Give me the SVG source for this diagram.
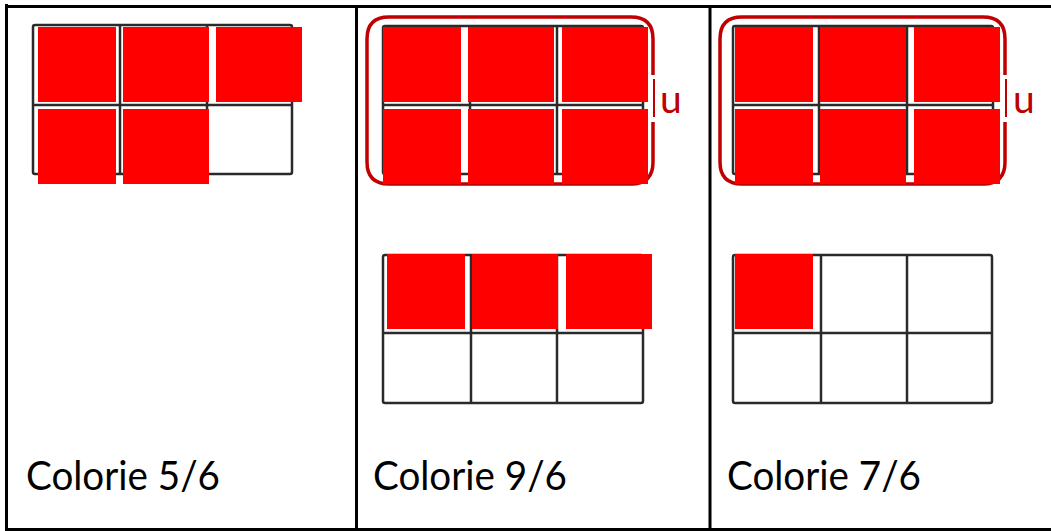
<svg xmlns="http://www.w3.org/2000/svg" width="1051" height="531" viewBox="0 0 1051 531">
<style>
.border{stroke:#000;stroke-width:3;fill:none}
.grid{stroke:#2a2a2a;stroke-width:2.5;fill:#fff;stroke-linejoin:round}
.gl{stroke:#2a2a2a;stroke-width:2.5}
.red{fill:#ff0000}
.ring{fill:none;stroke:#c00000;stroke-width:3.5}
.tick{stroke:#c00000;stroke-width:2}
.lbl{font-family:"Lato","Liberation Sans",sans-serif;font-size:40px;fill:#000}
.u{font-family:"Lato","Liberation Sans",sans-serif;font-size:39px;fill:#c00000}
</style>
<rect width="1051" height="531" fill="#fff"/>
<g id="frame">
<line class="border" x1="6.5" y1="4" x2="6.5" y2="531"/>
<line class="border" x1="5" y1="6.5" x2="1051" y2="6.5"/>
<line class="border" x1="5" y1="529.5" x2="1051" y2="529.5"/>
<line class="border" x1="356.5" y1="5" x2="356.5" y2="531"/>
<line class="border" x1="710" y1="5" x2="710" y2="531"/>
</g>
<g id="panel1">
<rect class="grid" x="33" y="25" width="259" height="149" rx="2"/>
<line class="gl" x1="33" y1="105" x2="292" y2="105"/>
<line class="gl" x1="120" y1="25" x2="120" y2="174"/>
<line class="gl" x1="207" y1="25" x2="207" y2="174"/>
<rect class="red" x="38" y="27" width="78" height="75"/>
<rect class="red" x="123" y="27" width="86" height="75"/>
<rect class="red" x="216" y="27" width="86" height="75"/>
<rect class="red" x="38" y="109" width="78" height="75"/>
<rect class="red" x="123" y="109" width="86" height="75"/>
<text class="lbl" x="26" y="490" textLength="194" lengthAdjust="spacingAndGlyphs">Colorie 5/6</text>
</g>
<g id="panel2">
<rect class="grid" x="383" y="26" width="260" height="148" rx="2"/>
<line class="gl" x1="383" y1="105" x2="643" y2="105"/>
<line class="gl" x1="470" y1="26" x2="470" y2="174"/>
<line class="gl" x1="557" y1="26" x2="557" y2="174"/>
<path class="ring" d="M653 75 V39 Q653 17 631 17 H389 Q367 17 367 39 V162 Q367 184 389 184 H631 Q653 184 653 162 V122"/>
<line class="tick" x1="654" y1="79" x2="654" y2="117"/>
<text class="u" x="660" y="113">u</text>
<rect class="red" x="383" y="27" width="78" height="75"/>
<rect class="red" x="468" y="27" width="86" height="75"/>
<rect class="red" x="562" y="27" width="86" height="75"/>
<rect class="red" x="383" y="109" width="78" height="75"/>
<rect class="red" x="468" y="109" width="86" height="75"/>
<rect class="red" x="562" y="109" width="86" height="75"/>
<rect class="grid" x="383" y="255" width="260" height="148" rx="2"/>
<line class="gl" x1="383" y1="333" x2="643" y2="333"/>
<line class="gl" x1="471" y1="255" x2="471" y2="403"/>
<line class="gl" x1="557" y1="255" x2="557" y2="403"/>
<rect class="red" x="387" y="254" width="78" height="75"/>
<rect class="red" x="472" y="254" width="86" height="75"/>
<rect class="red" x="566" y="254" width="86" height="75"/>
<text class="lbl" x="373" y="490" textLength="194" lengthAdjust="spacingAndGlyphs">Colorie 9/6</text>
</g>
<g id="panel3">
<rect class="grid" x="733" y="26" width="260" height="148" rx="2"/>
<line class="gl" x1="733" y1="105" x2="993" y2="105"/>
<line class="gl" x1="819" y1="26" x2="819" y2="174"/>
<line class="gl" x1="907" y1="26" x2="907" y2="174"/>
<path class="ring" d="M1005 75 V39 Q1005 17 983 17 H742 Q720 17 720 39 V162 Q720 184 742 184 H983 Q1005 184 1005 162 V122"/>
<line class="tick" x1="1006" y1="79" x2="1006" y2="117"/>
<text class="u" x="1013" y="113">u</text>
<rect class="red" x="735" y="27" width="78" height="75"/>
<rect class="red" x="820" y="27" width="86" height="75"/>
<rect class="red" x="914" y="27" width="86" height="75"/>
<rect class="red" x="735" y="109" width="78" height="75"/>
<rect class="red" x="820" y="109" width="86" height="75"/>
<rect class="red" x="914" y="109" width="86" height="75"/>
<rect class="grid" x="733" y="255" width="259" height="148" rx="2"/>
<line class="gl" x1="733" y1="333" x2="992" y2="333"/>
<line class="gl" x1="821" y1="255" x2="821" y2="403"/>
<line class="gl" x1="907" y1="255" x2="907" y2="403"/>
<rect class="red" x="735" y="254" width="78" height="75"/>
<text class="lbl" x="727" y="490" textLength="194" lengthAdjust="spacingAndGlyphs">Colorie 7/6</text>
</g>
</svg>
